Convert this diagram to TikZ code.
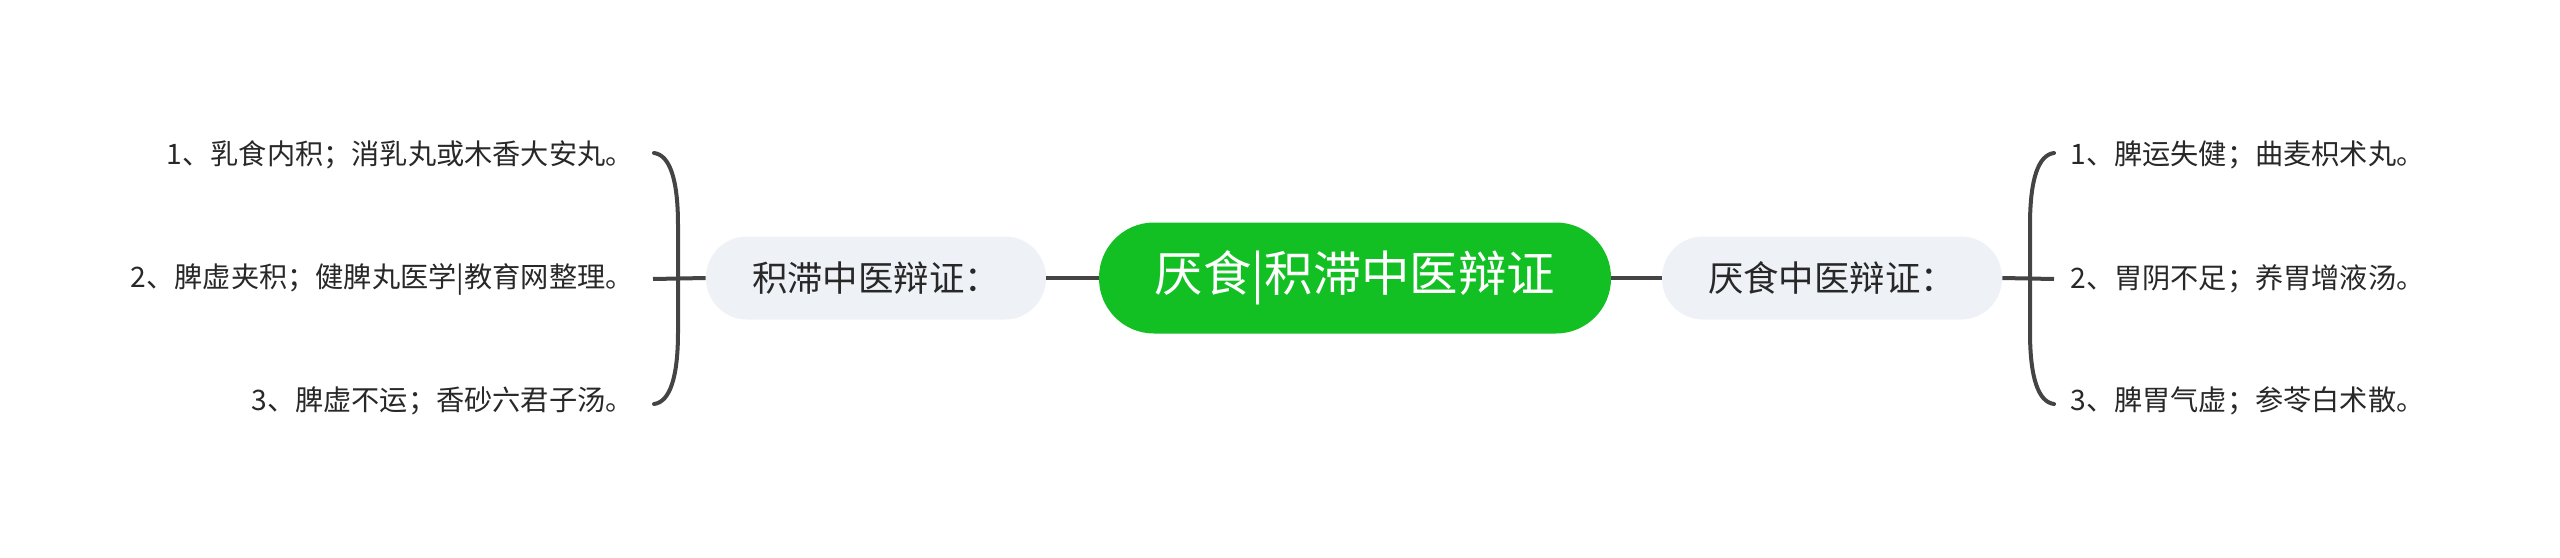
\documentclass[tikz,border=0pt]{standalone}
\usepackage{fontspec}
\setmainfont{Noto Sans CJK SC}
\definecolor{rootgreen}{RGB}{19,192,36}
\definecolor{pillgray}{RGB}{238,241,245}
\definecolor{linegray}{RGB}{68,68,68}
\definecolor{txt}{RGB}{40,40,40}
\begin{document}
\begin{tikzpicture}[x={(0.5pt,0)},y={(0,-0.5pt)},
  rootnode/.style={fill=rootgreen,rounded corners=27.5pt,minimum width=256pt,minimum height=55.5pt,inner sep=0pt,text=white,font=\fontsize{24.2}{28}\selectfont},
  pillnode/.style={fill=pillgray,rounded corners=20.5pt,minimum width=170pt,minimum height=41.5pt,inner sep=0pt,text=txt,font=\fontsize{17.7}{21}\selectfont},
  leafnode/.style={inner sep=0pt,text=txt,font=\fontsize{14.1}{17}\selectfont},
  conn/.style={draw=linegray,line width=2pt},
  brk/.style={draw=linegray,line width=2pt,line cap=round}]
\useasboundingbox (0,0) rectangle (2560,557);
\node[rootnode] (root) at (1355,278) {厌食|积滞中医辩证};
\node[pillnode] (L) at (876,278) {积滞中医辩证：};
\node[pillnode] (R) at (1832,278) {厌食中医辩证：};
\draw[conn] (root.west) -- (L.east);
\draw[conn] (root.east) -- (R.west);
% left leaves
\node[leafnode,anchor=east] (l1) at (634,155) {1、乳食内积；消乳丸或木香大安丸。};
\node[leafnode,anchor=east] (l2) at (634,279) {2、脾虚夹积；健脾丸医学|教育网整理。};
\node[leafnode,anchor=east] (l3) at (634,401) {3、脾虚不运；香砂六君子汤。};
\coordinate (lj) at (653,279);
\draw[conn] (L.west) -- (lj);
\coordinate (lt) at (654,153);
\coordinate (lb) at (654,404);
\draw[brk] (lt) .. controls (670,155) and (678,180) .. (678,225) -- (678,332) .. controls (678,377) and (670,402) .. (lb);
% right leaves
\node[leafnode,anchor=west] (r1) at (2070,155) {1、脾运失健；曲麦枳术丸。};
\node[leafnode,anchor=west] (r2) at (2070,279) {2、胃阴不足；养胃增液汤。};
\node[leafnode,anchor=west] (r3) at (2070,401) {3、脾胃气虚；参苓白术散。};
\coordinate (rj) at (2054,279);
\draw[conn] (R.east) -- (rj);
\coordinate (rt) at (2054,153);
\coordinate (rb) at (2054,404);
\draw[brk] (rt) .. controls (2038,155) and (2030,180) .. (2030,225) -- (2030,332) .. controls (2030,377) and (2038,402) .. (rb);
\end{tikzpicture}
\end{document}
